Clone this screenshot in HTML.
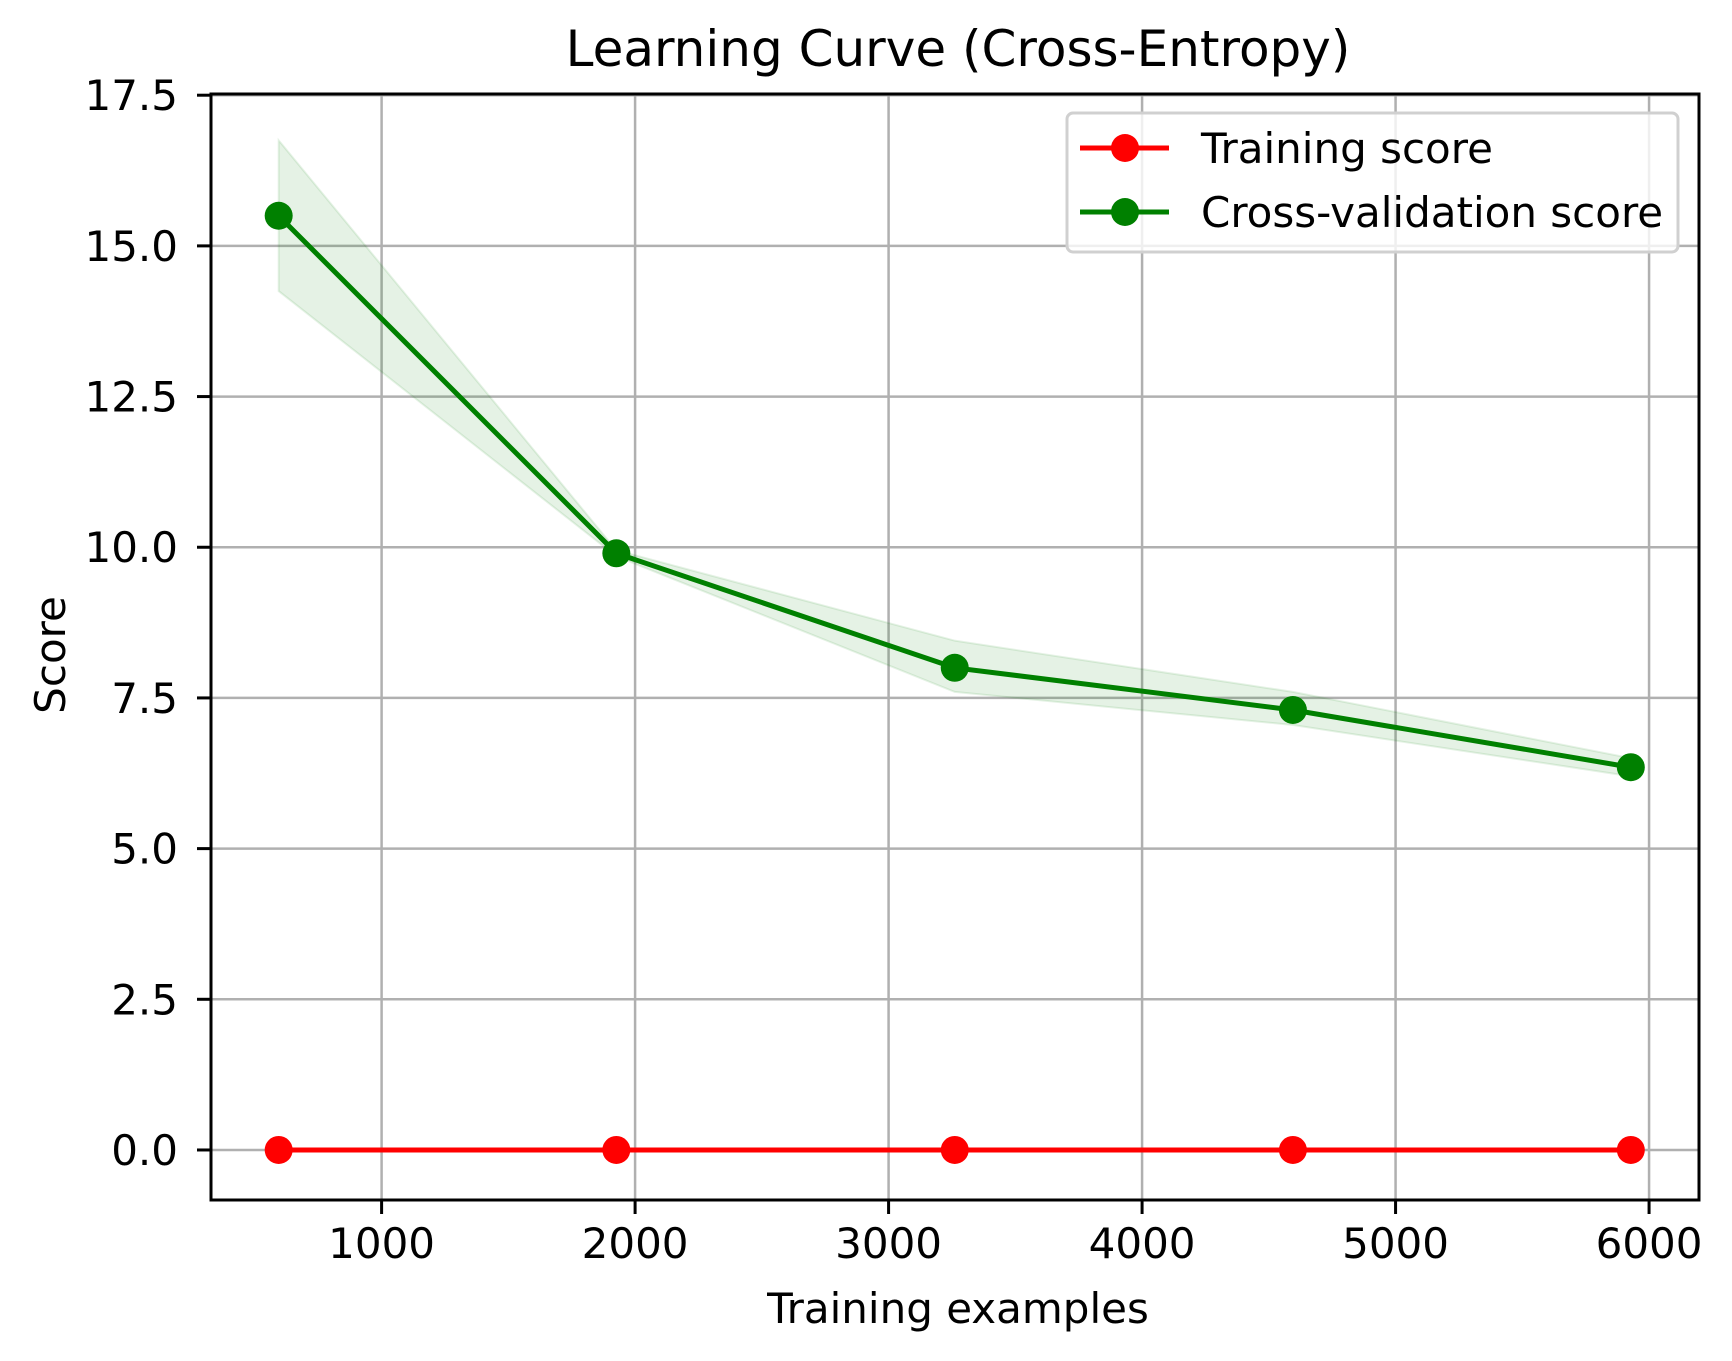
<!DOCTYPE html>
<html><head><meta charset="utf-8"><style>
html,body{margin:0;padding:0;background:#fff}
svg{display:block}
text{font-family:"DejaVu Sans","Liberation Sans",sans-serif;fill:#000}
</style></head><body>
<svg id="chart" width="1732" height="1361" viewBox="0 0 1732 1361" xmlns="http://www.w3.org/2000/svg">
<rect width="1732" height="1361" fill="#fff"/>
<g id="grid"></g>
<g id="bands"></g>
<g id="series"></g>
<rect x="211" y="94" width="1488" height="1106" fill="none" stroke="#000" stroke-width="3"/>
<g id="ticks"></g>
<text x="958" y="66" text-anchor="middle" font-size="50">Learning Curve (Cross-Entropy)</text>
<text x="958" y="1323" text-anchor="middle" font-size="42">Training examples</text>
<text x="0" y="0" transform="translate(65,655) rotate(-90)" text-anchor="middle" font-size="42">Score</text>
<g>
<rect x="1067" y="113" width="611" height="139" rx="6" fill="rgba(255,255,255,0.8)" stroke="#d0d0d0" stroke-width="3"/>
<g>
<line x1="1080" y1="148" x2="1169" y2="148" stroke="#ff0000" stroke-width="5"/>
<circle cx="1125" cy="148" r="14" fill="#ff0000"/>
<text x="1201" y="163" font-size="42">Training score</text>
</g>
<g>
<line x1="1080" y1="212" x2="1169" y2="212" stroke="#008000" stroke-width="5"/>
<circle cx="1125" cy="212" r="14" fill="#008000"/>
<text x="1201" y="227" font-size="42">Cross-validation score</text>
</g>
</g>
</svg>
<script>
const trainSizes = [594, 1926, 3261, 4595, 5928];
const trainScores = [0, 0, 0, 0, 0];
const cvScores = [15.5, 9.9, 8.0, 7.3, 6.35];
const cvUpper = [16.75, 9.95, 8.45, 7.6, 6.5];
const cvLower = [14.25, 9.85, 7.6, 7.05, 6.2];
const xTicks = [1000, 2000, 3000, 4000, 5000, 6000];
const yTicks = [0, 2.5, 5, 7.5, 10, 12.5, 15, 17.5];
const yTickLabels = ["0.0","2.5","5.0","7.5","10.0","12.5","15.0","17.5"];

const NS = "http://www.w3.org/2000/svg";
const L = 211, R = 1699, T = 94, B = 1200;
const xMin = 327, xMax = 6197, yMin = -0.83, yMax = 17.52;
const xs = v => L + (v - xMin) / (xMax - xMin) * (R - L);
const ys = v => B - (v - yMin) / (yMax - yMin) * (B - T);
function mk(tag, attrs, parent) {
  const e = document.createElementNS(NS, tag);
  for (const k in attrs) e.setAttribute(k, attrs[k]);
  parent.appendChild(e);
  return e;
}
const grid = document.getElementById('grid');
const ticks = document.getElementById('ticks');
xTicks.forEach(v => {
  const x = xs(v);
  const g = mk('line', {x1:x, x2:x, y1:T, y2:B, stroke:'#b0b0b0', 'stroke-width':2.5}, grid);
  
  
  mk('line', {x1:x, x2:x, y1:B, y2:B+14, stroke:'#000', 'stroke-width':3}, ticks);
  const t = mk('text', {x:x, y:B+58, 'text-anchor':'middle', 'font-size':42}, ticks);
  t.textContent = v;
  
  
});
yTicks.forEach((v, i) => {
  const y = ys(v);
  const g = mk('line', {x1:L, x2:R, y1:y, y2:y, stroke:'#b0b0b0', 'stroke-width':2.5}, grid);
  
  
  mk('line', {x1:L-14, x2:L, y1:y, y2:y, stroke:'#000', 'stroke-width':3}, ticks);
  const t = mk('text', {x:L-33, y:y+15, 'text-anchor':'end', 'font-size':42}, ticks);
  t.textContent = yTickLabels[i];
  
  
});
const bands = document.getElementById('bands');
let pts = trainSizes.map((s, i) => xs(s) + ',' + ys(cvUpper[i]));
pts = pts.concat(trainSizes.map((s, i) => xs(s) + ',' + ys(cvLower[i])).reverse());
const band = mk('polygon', {points: pts.join(' '), fill:'rgba(0,128,0,0.1)', stroke:'rgba(0,128,0,0.1)', 'stroke-width':2}, bands);


const series = document.getElementById('series');
function drawSeries(vals, color, name) {
  const pl = mk('polyline', {points: trainSizes.map((s, i) => xs(s) + ',' + ys(vals[i])).join(' '), fill:'none', stroke:color, 'stroke-width':5}, series);
  
  
  trainSizes.forEach((s, i) => {
    const c = mk('circle', {cx: xs(s), cy: ys(vals[i]), r: 14, fill: color}, series);
    
    
  });
}
drawSeries(cvScores, '#008000', 'cv-score');
drawSeries(trainScores, '#ff0000', 'training-score');
</script>
</body></html>
